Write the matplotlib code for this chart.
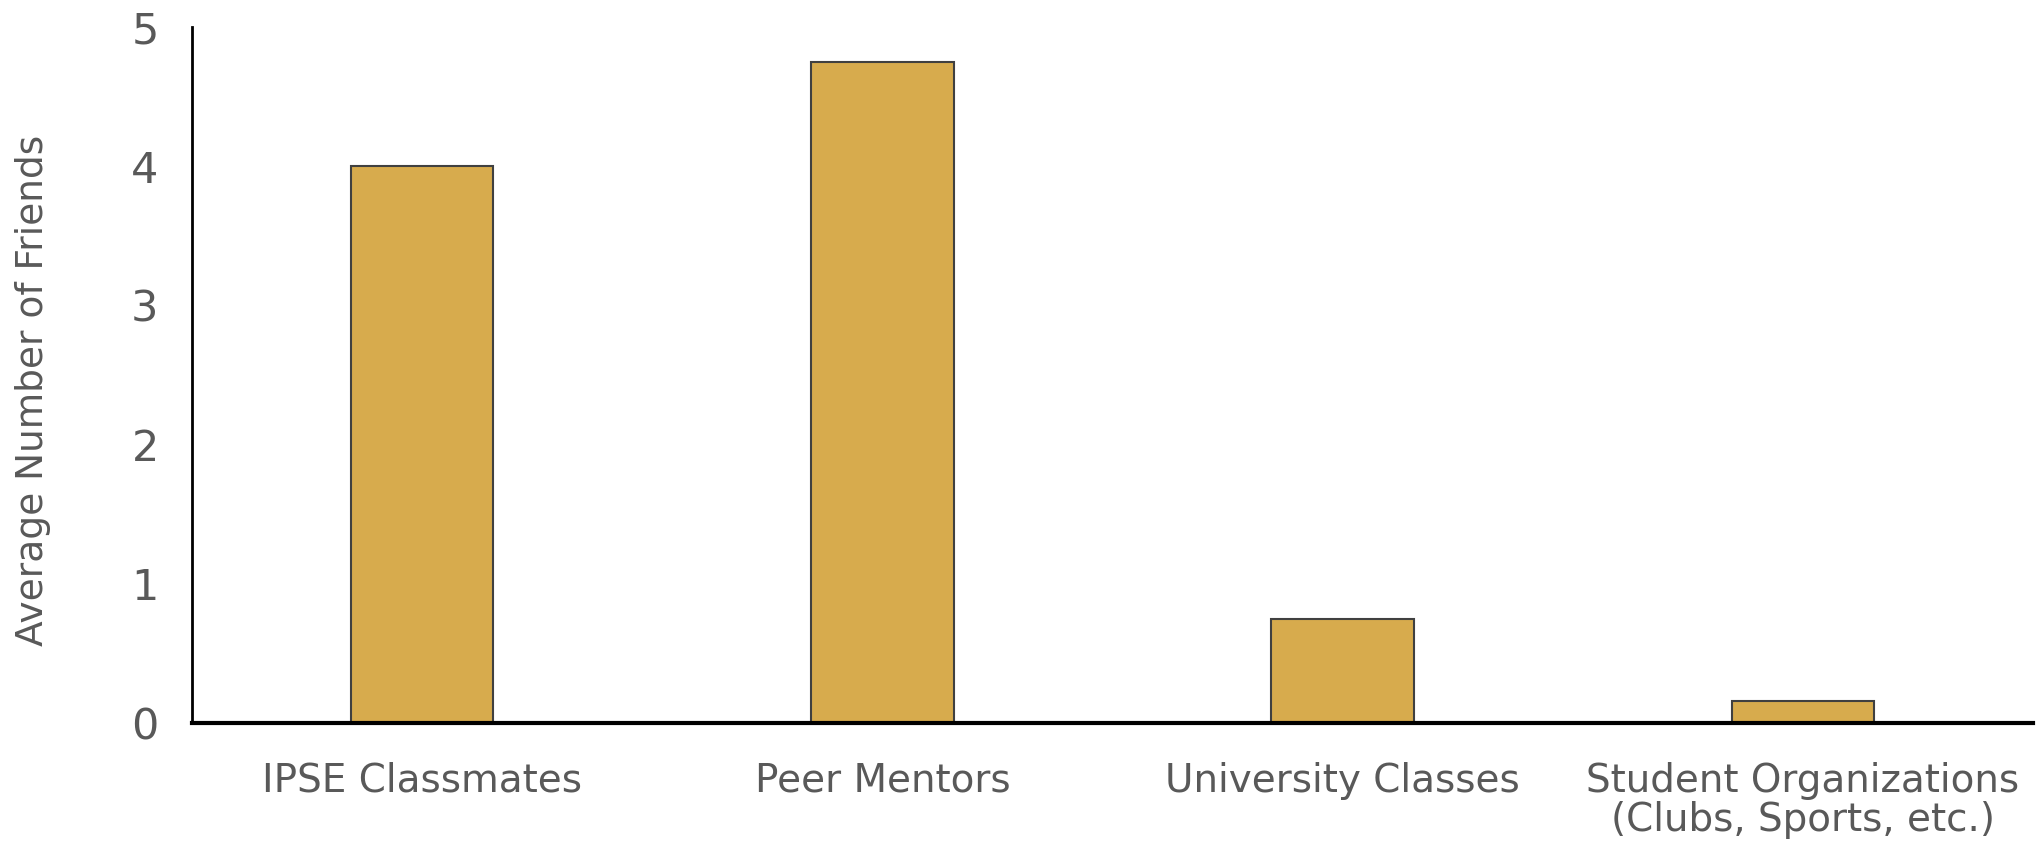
import matplotlib.pyplot as plt

categories = ['IPSE Classmates', 'Peer Mentors', 'University Classes',
              'Student Organizations\n(Clubs, Sports, etc.)']
avg_friends = [4.0, 4.75, 0.75, 0.16]
y_ticks = [0, 1, 2, 3, 4, 5]

text_color = '#595959'
bar_color = '#D7AB4D'

fig = plt.figure(figsize=(20.36, 8.49), dpi=100)
ax = fig.add_axes([192 / 2036, 1 - 723 / 849, (2033 - 192) / 2036, (723 - 27) / 849])

x = range(len(categories))
ax.bar(x, avg_friends, width=0.31, color=bar_color, edgecolor='#404040', linewidth=1.5, zorder=2)

ax.set_xlim(-0.5, 3.5)
ax.set_ylim(0, 5)
ax.set_yticks(y_ticks)
ax.set_yticklabels([str(t) for t in y_ticks], fontsize=31, color=text_color,
                   family='DejaVu Sans')
ax.set_xticks(list(x))
ax.set_xticklabels(categories, fontsize=28, color=text_color,
                   family='DejaVu Sans', linespacing=1.05)
ax.tick_params(axis='y', length=0, pad=24)
ax.tick_params(axis='x', length=0, pad=28)

for side in ['top', 'right']:
    ax.spines[side].set_visible(False)
ax.spines['left'].set_linewidth(2)
ax.spines['bottom'].set_linewidth(3)
ax.spines['left'].set_color('black')
ax.spines['bottom'].set_color('black')

fig.text(33 / 2036, 1 - 390 / 849, 'Average Number of Friends', rotation=90,
         ha='center', va='center', fontsize=27, color=text_color, family='DejaVu Sans')

fig.savefig('out.png', dpi=100, facecolor='white')
